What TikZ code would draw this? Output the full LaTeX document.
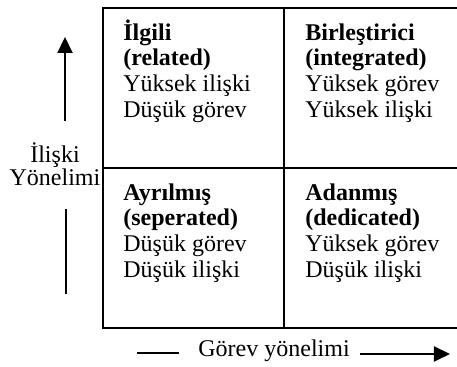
\documentclass[tikz,border=0pt]{standalone}
\usepackage{fontspec}
\setmainfont{Liberation Serif}
\usetikzlibrary{arrows.meta, positioning}

\begin{document}
\begin{tikzpicture}
        [x=0.5pt, y=-0.5pt, font=\fontsize{12}{12.8}\selectfont,
        cell/.style={rectangle, draw=black, line width=1.1pt, minimum width=90.5pt, minimum height=80pt, inner sep=0pt, outer sep=0pt},
        celltext/.style={anchor=north west, align=left, inner sep=0pt},
        axisline/.style={line width=1pt},
        axisarrow/.style={line width=1pt, -{Triangle[length=8pt,width=7.5pt]}}]
        \useasboundingbox (0,0) rectangle (457,367);
        \clip (0,0) rectangle (457,367);

        % the four styles
        \node[cell, anchor=north west]  (related)    at (103,8) {};
        \node[cell]  (integrated)    [right = 0pt of related] {};
        \node[cell]  (separated)     [below = 0pt of related] {};
        \node[cell]  (dedicated)     [right = 0pt of separated] {};

        \node[celltext]  (relatedtext)    at ([xshift=10pt, yshift=-5pt]related.north west)
        {\rule{0pt}{11pt}\textbf{İlgili} \\
            \textbf{(related)} \\
            Yüksek ilişki \\
            Düşük görev
        };

        \node[celltext]  (integratedtext)    at ([xshift=10.5pt, yshift=-5pt]integrated.north west)
        {\rule{0pt}{11pt}\textbf{Birleştirici} \\
            \textbf{(integrated)} \\
            Yüksek görev \\
            Yüksek ilişki
        };

        \node[celltext]  (separatedtext)    at ([xshift=10pt, yshift=-5pt]separated.north west)
        {\rule{0pt}{11pt}\textbf{Ayrılmış} \\
            \textbf{(seperated)} \\
            Düşük görev \\
            Düşük ilişki
        };

        \node[celltext]  (dedicatedtext)    at ([xshift=10.5pt, yshift=-5pt]dedicated.north west)
        {\rule{0pt}{11pt}\textbf{Adanmış} \\
            \textbf{(dedicated)} \\
            Yüksek görev \\
            Düşük ilişki
        };

        % axis labels
        \node[anchor=north, align=center, inner sep=0pt, font=\fontsize{12}{11.5}\selectfont]  (relaxis)    at (55,140)
        {\rule{0pt}{11pt}İlişki \\
            Yönelimi
        };

        \node[anchor=base west, inner sep=0pt]  (taskaxis)    at (198,357) {Görev yönelimi};

        \coordinate (relbottom) at (65,121);
        \coordinate (reltip)    at (65,37);
        \coordinate (rellow1)   at (66,209);
        \coordinate (rellow2)   at (66,294);
        \coordinate (taskstart) at (137,353);
        \coordinate (taskgap)   at (179,353);
        \coordinate (taskgo)    at (360,354);
        \coordinate (tasktip)   at (450,354);

        \draw[axisarrow] (relbottom) -- (reltip);
        \draw[axisline]  (rellow1) -- (rellow2);
        \draw[axisline]  (taskstart) -- (taskgap);
        \draw[axisarrow] (taskgo) -- (tasktip);
\end{tikzpicture}
\end{document}
